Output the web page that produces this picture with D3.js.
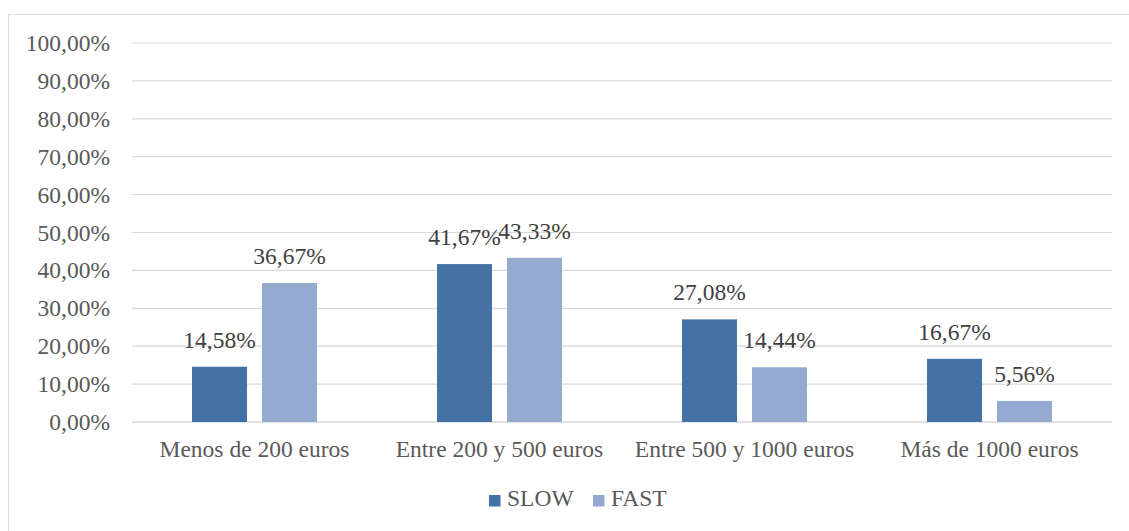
<!DOCTYPE html>
<html>
<head>
<meta charset="utf-8">
<script src="https://cdn.jsdelivr.net/npm/d3@7"></script>
<style>
  body { margin: 0; background: #fff; }
  svg text { font-family: "Liberation Serif", "Times New Roman", serif; font-size: 23.5px; }
</style>
</head>
<body>
<svg width="1129" height="531"></svg>
<script>
const categories = ['Menos de 200 euros', 'Entre 200 y 500 euros', 'Entre 500 y 1000 euros', 'Más de 1000 euros'];
const seriesNames = ['SLOW', 'FAST'];
const slowValues = [14.58, 41.67, 27.08, 16.67];
const fastValues = [36.67, 43.33, 14.44, 5.56];
const yTicks = [0, 10, 20, 30, 40, 50, 60, 70, 80, 90, 100];
const colors = ['#4472a6', '#95aad1'];

const svg = d3.select('svg');

// marco del gráfico
svg.append('rect')
    .attr('x', 8.5).attr('y', 14.5)
    .attr('width', 1140).attr('height', 540)
    .attr('fill', 'none')
    .attr('stroke', '#d9d9d9')
    .attr('stroke-width', 1);

const x = d3.scaleBand().domain(categories).range([132, 1112]);
const y = d3.scaleLinear().domain([0, 100]).range([422, 43]);
const fmt = v => v.toFixed(2).replace('.', ',') + '%';

// líneas de la cuadrícula y etiquetas del eje
yTicks.forEach(t => {
    svg.append('line')
        .attr('x1', 132).attr('x2', 1112)
        .attr('y1', y(t)).attr('y2', y(t))
        .attr('stroke', '#d9d9d9')
        .attr('stroke-width', t === 0 ? 1.5 : 1.2);
    svg.append('text')
        .attr('x', 110).attr('y', y(t) + 8)
        .attr('text-anchor', 'end')
        .attr('fill', '#595959')
        .text(fmt(t));
});

const data = [slowValues, fastValues];
const barW = 55, gap = 15;

categories.forEach((c, i) => {
    const cx = x(c) + x.bandwidth() / 2;
    data.forEach((vals, s) => {
        const bx = cx - gap / 2 - barW + s * (barW + gap);
        svg.append('rect')
            .attr('x', bx).attr('y', y(vals[i]))
            .attr('width', barW).attr('height', y(0) - y(vals[i]))
            .attr('fill', colors[s]);
        svg.append('text')
            .attr('x', bx + barW / 2).attr('y', y(vals[i]) - 19)
            .attr('text-anchor', 'middle')
            .attr('fill', '#404040')
            .text(fmt(vals[i]));
    });
    svg.append('text')
        .attr('x', cx).attr('y', 457)
        .attr('text-anchor', 'middle')
        .attr('fill', '#595959')
        .text(c);
});

// leyenda
const legendX = [489, 593];
seriesNames.forEach((n, s) => {
    svg.append('rect')
        .attr('x', legendX[s]).attr('y', 495)
        .attr('width', 11.5).attr('height', 11.5)
        .attr('fill', colors[s]);
    svg.append('text')
        .attr('x', legendX[s] + 18).attr('y', 506)
        .attr('fill', '#595959')
        .text(n);
});
</script>
</body>
</html>
